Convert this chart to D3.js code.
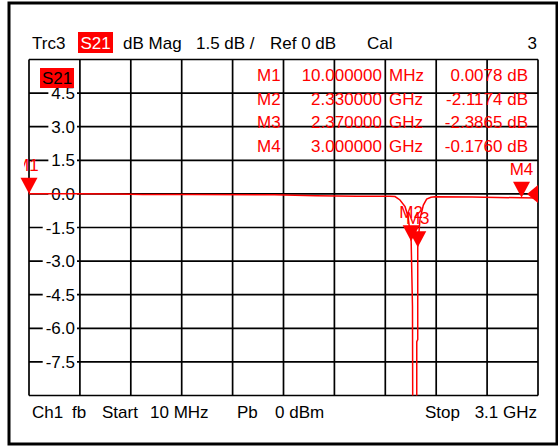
<!DOCTYPE html>
<html>
<head>
<meta charset="utf-8">
<script src="https://cdnjs.cloudflare.com/ajax/libs/d3/7.8.5/d3.min.js"></script>
<style>
  body { margin: 0; background: #fff; }
  svg { display: block; font-family: "Liberation Sans", Arial, sans-serif; }
</style>
</head>
<body>
<svg id="chart" width="558" height="447"></svg>
<script>
// sweep, GHz
var freqStart = 0.01;
var freqStop = 3.1;

// S21 trace (GHz / dB)
var traceFreq = [0.01, 0.3, 0.55, 0.7, 1.0, 1.5, 1.75, 2.0, 2.2, 2.232, 2.262, 2.293, 2.311, 2.33, 2.338, 2.343,
                 2.35, 2.3638, 2.364, 2.3699, 2.37, 2.384, 2.404, 2.424, 2.45, 2.475, 2.7, 3.0, 3.1];
var traceDb = [0.0078, 0.005, 0.0, -0.03, -0.03, -0.04, -0.08, -0.1, -0.11, -0.12, -0.27, -0.57, -1.0, -2.1174, -5.0, -20,
               -30, -20, -6.6, -6.5, -2.3865, -1.1, -0.5, -0.23, -0.15, -0.13, -0.14, -0.176, -0.18];

// y axis: 1.5 dB / div, ref 0 dB
var yMin = -9, yMax = 6, yStep = 1.5;
var yTickLabels = ['4.5', '3.0', '1.5', '0.0', '-1.5', '-3.0', '-4.5', '-6.0', '-7.5'];

// markers
var markerNames = ['M1', 'M2', 'M3', 'M4'];
var markerFreq = [0.01, 2.33, 2.37, 3.0];
var markerDb = [0.0078, -2.1174, -2.3865, -0.1760];
var markerFreqText = ['10.000000', '2.330000', '2.370000', '3.000000'];
var markerUnit = ['MHz', 'GHz', 'GHz', 'GHz'];

var headerText = ['Trc3', 'S21', 'dB Mag', '1.5 dB /', 'Ref 0 dB', 'Cal', '3'];
var footerText = ['Ch1', 'fb', 'Start', '10 MHz', 'Pb', '0 dBm', 'Stop', '3.1 GHz'];

var red = '#ff0000';
var svg = d3.select('#chart');
var plot = {left: 29, right: 538, top: 59.5, bottom: 395.5};

var x = d3.scaleLinear().domain([freqStart, freqStop]).range([plot.left, plot.right]);
var y = d3.scaleLinear().domain([yMin, yMax]).range([plot.bottom, plot.top]);

// outer frame
svg.append('rect')
	.attr('x', 9).attr('y', 3).attr('width', 548).attr('height', 441)
	.attr('fill', 'none').attr('stroke', '#000').attr('stroke-width', 3);

// header line
var hx = [32, null, 123, 196, 270, 367, 537];
var header = svg.append('g').style('font-size', '17px');
headerText.forEach(function(t, i) {
	if (i === 1) {
		header.append('rect').attr('x', 78).attr('y', 32).attr('width', 35).attr('height', 21).attr('fill', red);
		header.append('text').attr('x', 95.5).attr('y', 49).attr('text-anchor', 'middle').attr('fill', '#fff').text(t);
		return;
	}
	header.append('text')
		.attr('x', hx[i]).attr('y', 49)
		.attr('text-anchor', i === 6 ? 'end' : 'start')
		.text(t);
});

// grid
var xGrid = d3.range(11).map(function(i) { return freqStart + i * (freqStop - freqStart) / 10; });
var yGrid = d3.range(yMin, yMax + 0.01, yStep);
var grid = svg.append('g').attr('stroke', '#000').attr('stroke-width', 1.7);
grid.selectAll('line.v').data(xGrid).enter().append('line')
	.attr('x1', function(d) { return x(d); }).attr('x2', function(d) { return x(d); })
	.attr('y1', plot.top).attr('y2', plot.bottom);
grid.selectAll('line.h').data(yGrid).enter().append('line')
	.attr('x1', plot.left).attr('x2', plot.right)
	.attr('y1', function(d) { return y(d); }).attr('y2', function(d) { return y(d); });

// y labels sit on white boxes that cut the grid line
var yLab = svg.append('g').style('font-size', '17px');
yTickLabels.forEach(function(t) {
	var v = +t;
	var txt = yLab.append('text').attr('x', 75).attr('y', y(v) + 6).attr('text-anchor', 'end').text(t);
	var bb = txt.node().getBBox();
	yLab.insert('rect', 'text')
		.attr('x', bb.x - 3).attr('y', y(v) - 3).attr('width', bb.width + 5).attr('height', 6)
		.attr('fill', '#fff');
});

// S21 tag in the diagram
svg.append('rect').attr('x', 40).attr('y', 68).attr('width', 34).attr('height', 20).attr('fill', red);
svg.append('text').attr('x', 57).attr('y', 84).attr('text-anchor', 'middle')
	.style('font-size', '17px').attr('fill', '#000').text('S21');

// trace
svg.append('clipPath').attr('id', 'clip').append('rect')
	.attr('x', plot.left).attr('y', plot.top)
	.attr('width', plot.right - plot.left).attr('height', plot.bottom - plot.top);
svg.append('clipPath').attr('id', 'clipM1').append('rect')
	.attr('x', 24).attr('y', 0).attr('width', 534).attr('height', 447);

var line = d3.line()
	.x(function(d, i) { return x(traceFreq[i]); })
	.y(function(d) { return y(d); });
svg.append('path')
	.datum(traceDb)
	.attr('clip-path', 'url(#clip)')
	.attr('d', line)
	.attr('fill', 'none').attr('stroke', red).attr('stroke-width', 1.5);

// ref level arrow on the right edge
svg.append('path')
	.attr('d', 'M' + plot.right + ',' + (y(0) - 9) + 'L' + (plot.right - 11) + ',' + y(0) + 'L' + plot.right + ',' + (y(0) + 9) + 'Z')
	.attr('fill', red);

// marker triangles and labels
var mk = svg.append('g').style('font-size', '17px').attr('fill', red);
markerNames.forEach(function(n, i) {
	var mx = x(markerFreq[i]), my = y(markerDb[i]);
	mk.append('path')
		.attr('d', 'M' + (mx - 8.5) + ',' + (my - 16) + 'L' + (mx + 8.5) + ',' + (my - 16) + 'L' + mx + ',' + my + 'Z');
	var lab = mk.append('text')
		.attr('x', i === 0 ? 15 : mx).attr('y', my - 23)
		.attr('text-anchor', i === 0 ? 'start' : 'middle')
		.text(n);
	if (i === 0) lab.attr('clip-path', 'url(#clipM1)');
});

// marker table
var table = svg.append('g').style('font-size', '17px').attr('fill', red);
markerNames.forEach(function(n, i) {
	var ty = 81 + i * 23.7;
	table.append('text').attr('x', 257).attr('y', ty).text(n);
	table.append('text').attr('x', 382).attr('y', ty).attr('text-anchor', 'end').text(markerFreqText[i]);
	table.append('text').attr('x', 389).attr('y', ty).text(markerUnit[i]);
	table.append('text').attr('x', 528).attr('y', ty).attr('text-anchor', 'end')
		.text(markerDb[i].toFixed(4) + ' dB');
});

// footer line
var fx = [32, 72, 102, 150, 237, 275, 425, 537];
var footer = svg.append('g').style('font-size', '17px');
footerText.forEach(function(t, i) {
	footer.append('text')
		.attr('x', fx[i]).attr('y', 418)
		.attr('text-anchor', i === 7 ? 'end' : 'start')
		.text(t);
});
</script>
</body>
</html>
